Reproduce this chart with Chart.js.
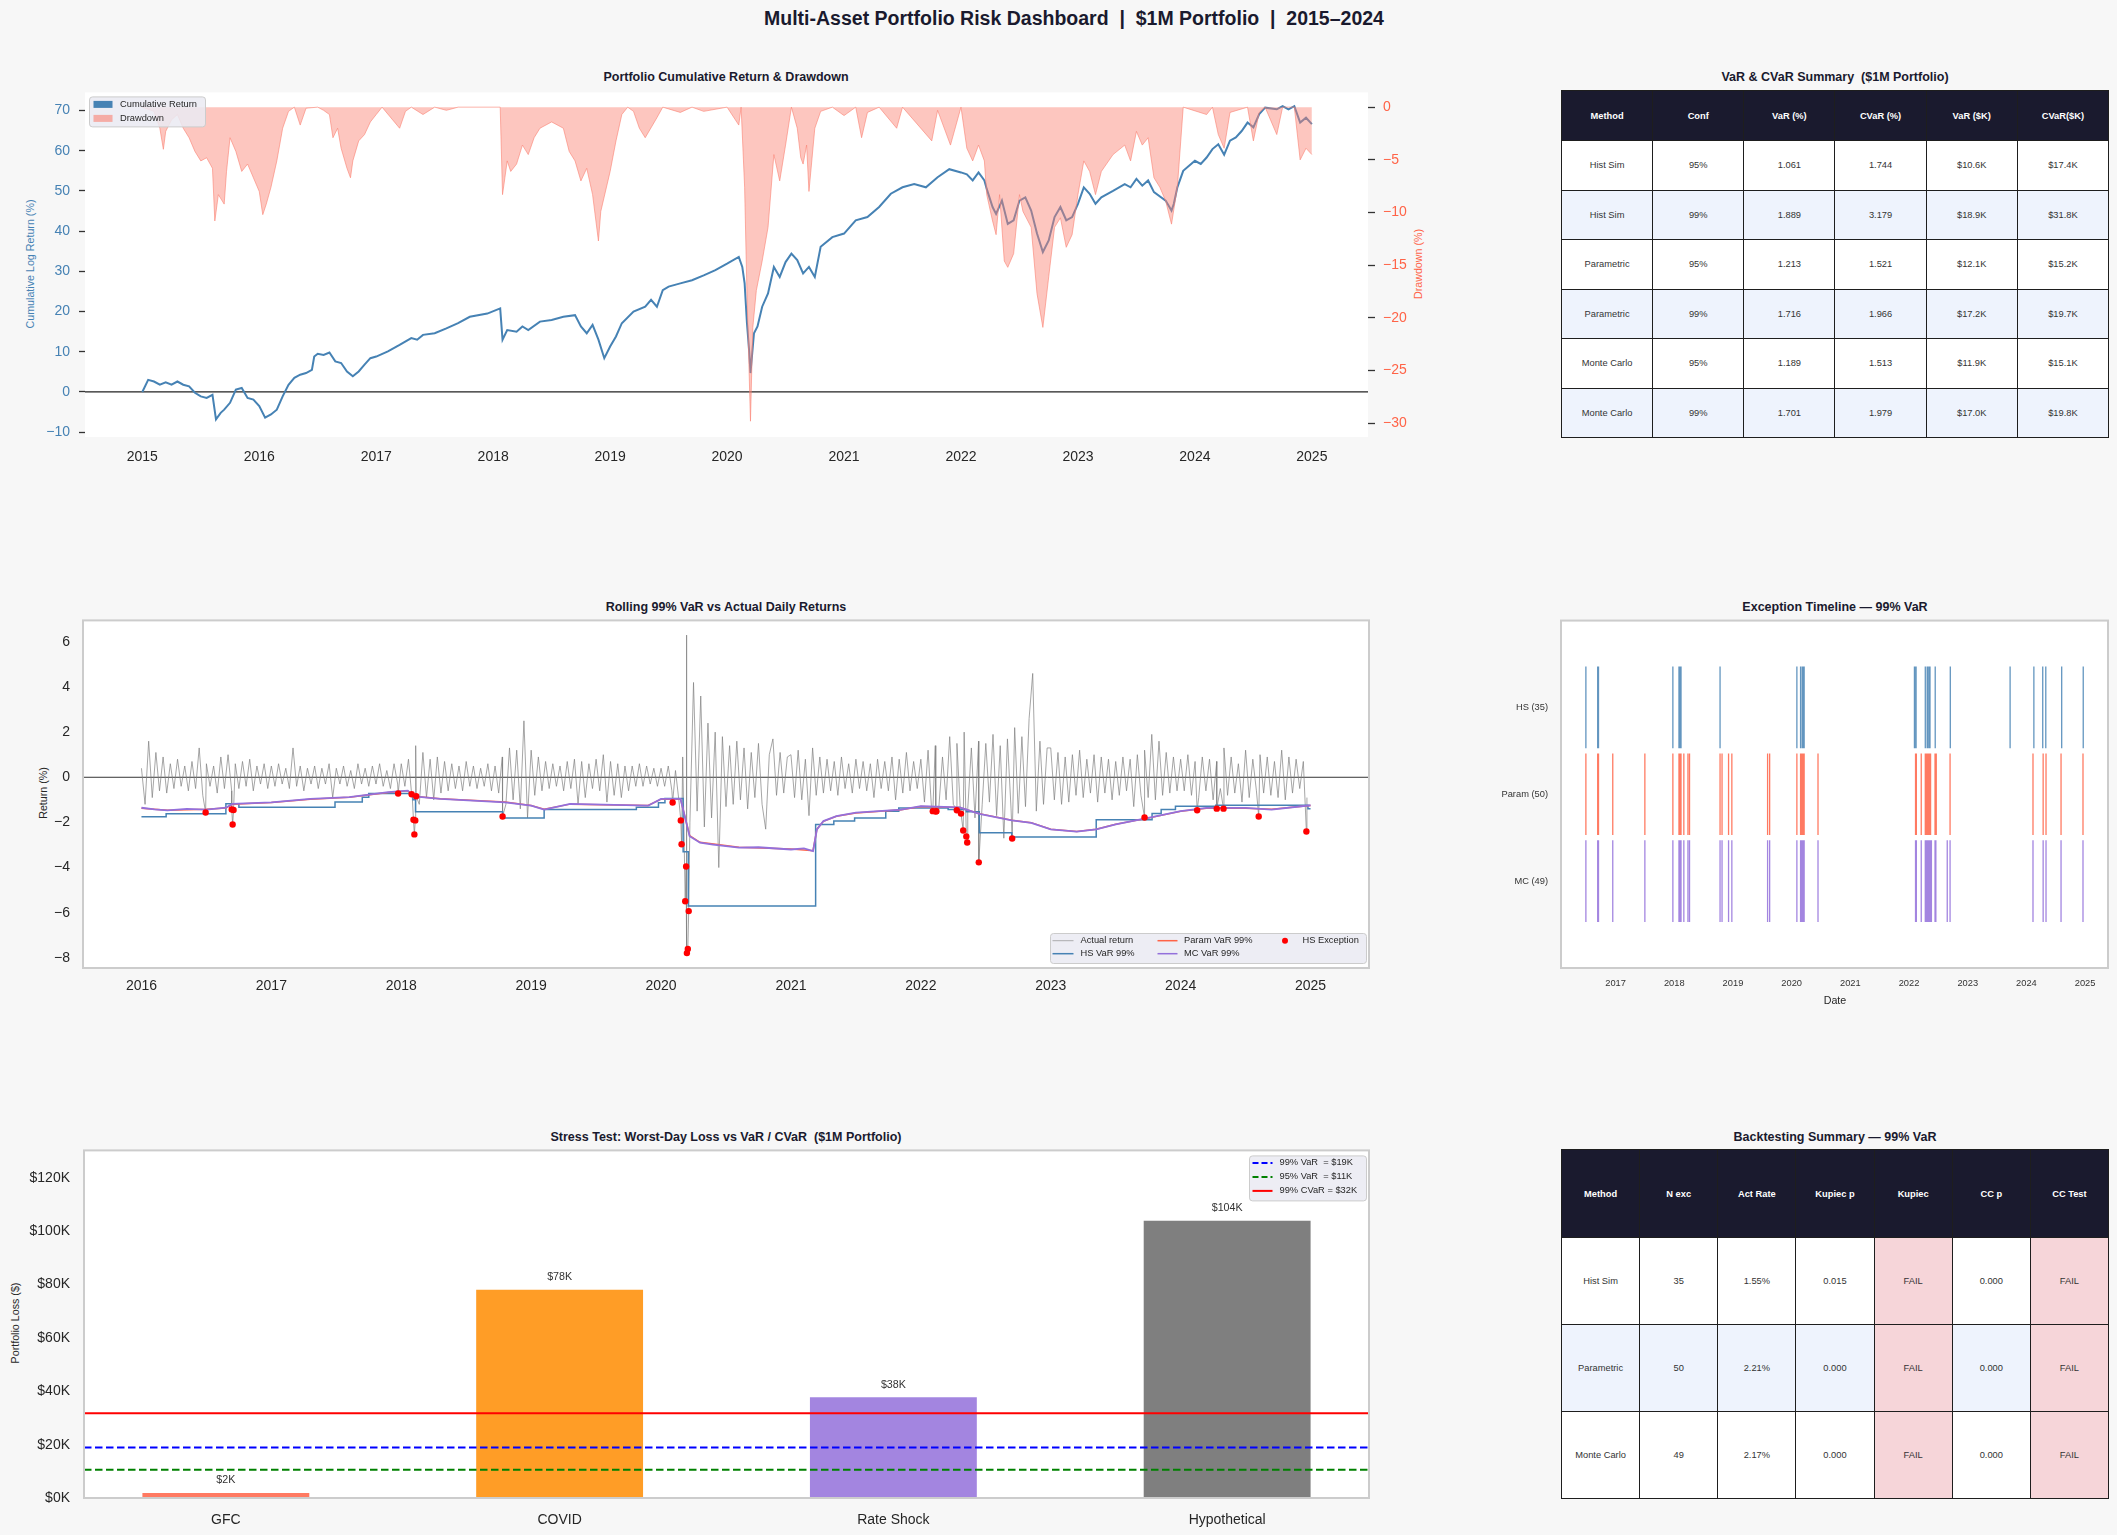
<!DOCTYPE html>
<html lang="en">
<head>
<meta charset="UTF-8">
<title>Multi-Asset Portfolio Risk Dashboard</title>
<script src="https://cdn.jsdelivr.net/npm/chart.js"></script>
<style>
  body { margin: 0; background: #f7f7f7; font-family: "Liberation Sans", Arial, sans-serif; }
  #page { position: relative; width: 2117px; height: 1535px; overflow: hidden; }
  canvas { position: absolute; }
  .ttl { position: absolute; transform: translate(-50%, -50%); font-weight: bold; font-size: 12.5px; color: #1a1a2e; white-space: pre; }
  .ylab { position: absolute; transform: translate(-50%, -50%) rotate(-90deg); font-size: 10.7px; color: #262626; white-space: nowrap; }
  table { position: absolute; border-collapse: collapse; table-layout: fixed; font-size: 9.3px; color: #333; }
  td, th { border: 1.5px solid #1e1e1e; text-align: center; padding: 0; }
  th { background: #1a1a2e; color: #fff; font-weight: bold; }
</style>
</head>
<body>
<div id="page">
  <div class="ttl" style="left:1074px; top:18px; font-size:19.5px;">Multi-Asset Portfolio Risk Dashboard  |  $1M Portfolio  |  2015–2024</div>

  <div class="ttl" style="left:726px; top:77px;">Portfolio Cumulative Return &amp; Drawdown</div>
  <div class="ylab" style="left:30px; top:264px; color:steelblue;">Cumulative Log Return (%)</div>
  <div class="ylab" style="left:1418px; top:264px; color:tomato;">Drawdown (%)</div>
  <canvas id="cumChart" width="1440" height="396" style="left:0; top:75px;"></canvas>

  <div class="ttl" style="left:1835px; top:77px;">VaR &amp; CVaR Summary  ($1M Portfolio)</div>
  <table id="varTable" style="left:1561px; top:90px; width:548px; height:348px;"></table>

  <div class="ttl" style="left:726px; top:607px;">Rolling 99% VaR vs Actual Daily Returns</div>
  <div class="ylab" style="left:43px; top:793px;">Return (%)</div>
  <canvas id="rollChart" width="1440" height="402" style="left:0; top:599px;"></canvas>

  <div class="ttl" style="left:1835px; top:607px;">Exception Timeline — 99% VaR</div>
  <canvas id="excChart" width="637" height="428" style="left:1480px; top:602px;"></canvas>
  <div class="ylab" style="left:1835px; top:1000px; transform:translate(-50%,-50%);">Date</div>

  <div class="ttl" style="left:726px; top:1137px;">Stress Test: Worst-Day Loss vs VaR / CVaR  ($1M Portfolio)</div>
  <div class="ylab" style="left:15px; top:1323px;">Portfolio Loss ($)</div>
  <canvas id="stressChart" width="1440" height="407" style="left:0; top:1128px;"></canvas>

  <div class="ttl" style="left:1835px; top:1137px;">Backtesting Summary — 99% VaR</div>
  <table id="btTable" style="left:1561px; top:1149px; width:548px; height:349px;"></table>
</div>

<script>
// ---------- data ----------
// cumulative log return (%) and drawdown (%), [year, value]
const cumReturn = [
  [2015.00,0],[2015.05,3.0],[2015.10,2.6],[2015.15,1.8],[2015.20,2.4],[2015.25,1.8],[2015.30,2.6],[2015.35,1.8],
  [2015.40,1.4],[2015.45,-0.2],[2015.50,-1.1],[2015.55,-1.5],[2015.60,-0.7],[2015.63,-6.8],[2015.67,-5.2],[2015.70,-4.4],
  [2015.75,-2.7],[2015.80,0.6],[2015.85,1.0],[2015.90,-1.5],[2015.95,-1.9],[2016.00,-3.5],[2016.05,-6.4],[2016.10,-5.6],
  [2016.15,-4.4],[2016.20,-1.1],[2016.25,1.8],[2016.30,3.5],[2016.35,4.3],[2016.40,4.7],[2016.45,5.5],[2016.47,8.8],
  [2016.50,9.5],[2016.55,9.2],[2016.60,9.8],[2016.65,7.6],[2016.70,7.2],[2016.75,5.1],[2016.80,3.9],[2016.85,5.1],
  [2016.90,6.8],[2016.95,8.4],[2017.00,8.8],[2017.10,10.1],[2017.20,11.7],[2017.30,13.4],[2017.35,13.0],[2017.40,14.2],
  [2017.50,14.6],[2017.60,15.8],[2017.70,17.1],[2017.80,18.7],[2017.95,19.5],[2018.06,20.8],[2018.08,13.0],[2018.12,15.4],
  [2018.20,15.0],[2018.25,16.3],[2018.30,15.4],[2018.40,17.5],[2018.50,17.9],[2018.60,18.7],[2018.70,19.1],[2018.75,16.3],
  [2018.80,14.6],[2018.85,16.7],[2018.90,13.0],[2018.95,8.4],[2019.00,11.3],[2019.05,13.8],[2019.10,17.1],[2019.20,20.0],
  [2019.30,21.2],[2019.35,22.9],[2019.40,21.2],[2019.45,25.3],[2019.50,26.2],[2019.60,27.0],[2019.70,27.8],[2019.80,29.0],
  [2019.90,30.3],[2020.00,31.9],[2020.10,33.6],[2020.13,31.1],[2020.15,27.0],[2020.17,17.1],[2020.19,9.7],[2020.20,4.7],
  [2020.23,14.6],[2020.26,16.3],[2020.30,21.2],[2020.35,24.5],[2020.40,31.1],[2020.45,28.6],[2020.50,32.3],[2020.55,34.4],
  [2020.60,32.8],[2020.65,29.5],[2020.70,31.1],[2020.75,28.6],[2020.80,36.1],[2020.90,38.5],[2021.00,39.4],[2021.10,42.7],
  [2021.20,43.5],[2021.30,46.0],[2021.40,49.3],[2021.50,50.9],[2021.60,51.7],[2021.70,50.9],[2021.80,53.4],[2021.90,55.4],
  [2022.00,54.6],[2022.05,54.1],[2022.10,52.6],[2022.15,54.6],[2022.20,52.6],[2022.22,50.5],[2022.27,46.0],[2022.30,44.3],
  [2022.35,47.6],[2022.40,41.8],[2022.45,42.7],[2022.50,47.6],[2022.55,48.4],[2022.60,45.1],[2022.65,39.4],[2022.70,34.8],
  [2022.75,37.7],[2022.80,43.5],[2022.85,46.0],[2022.90,42.7],[2022.95,43.5],[2023.00,46.8],[2023.05,50.9],[2023.10,49.3],
  [2023.15,46.8],[2023.20,48.4],[2023.30,50.0],[2023.40,51.7],[2023.45,50.9],[2023.50,53.0],[2023.55,51.3],[2023.60,52.6],
  [2023.65,49.7],[2023.75,47.6],[2023.80,45.1],[2023.82,46.8],[2023.85,50.9],[2023.90,55.0],[2024.00,57.5],[2024.05,56.7],
  [2024.10,58.3],[2024.15,60.4],[2024.20,61.6],[2024.25,59.0],[2024.30,62.5],[2024.35,63.3],[2024.40,64.9],[2024.45,67.0],
  [2024.50,65.8],[2024.55,69.1],[2024.60,70.7],[2024.70,70.3],[2024.75,71.1],[2024.80,70.3],[2024.85,71.1],[2024.90,67.0],
  [2024.95,68.2],[2025.00,66.6]
];
const drawdown = [
  [2015.00,0],[2015.10,-0.4],[2015.15,-2.0],[2015.18,-4.0],[2015.20,-2.3],[2015.25,-1.2],[2015.30,-0.7],[2015.35,-2.0],
  [2015.40,-2.9],[2015.45,-4.2],[2015.50,-5.1],[2015.55,-4.8],[2015.60,-5.8],[2015.62,-10.8],[2015.65,-8.3],[2015.70,-9.2],
  [2015.72,-6.1],[2015.75,-2.9],[2015.80,-4.2],[2015.85,-6.1],[2015.90,-5.4],[2015.95,-6.7],[2016.00,-8.0],[2016.03,-10.2],
  [2016.06,-9.2],[2016.10,-7.6],[2016.15,-5.1],[2016.20,-2.0],[2016.25,-0.4],[2016.30,0],[2016.35,-1.7],[2016.40,-0.1],
  [2016.50,0],[2016.55,-0.3],[2016.60,-0.7],[2016.63,-2.9],[2016.67,-2.0],[2016.70,-3.9],[2016.75,-5.8],[2016.78,-6.7],
  [2016.80,-5.1],[2016.85,-3.2],[2016.90,-2.6],[2016.95,-1.4],[2017.00,-0.7],[2017.05,0],[2017.20,-2.0],[2017.25,-0.4],
  [2017.30,0],[2017.40,-0.7],[2017.50,0],[2017.60,-0.3],[2017.70,0],[2018.06,0],[2018.08,-8.3],[2018.10,-6.7],
  [2018.12,-5.1],[2018.15,-6.1],[2018.20,-5.4],[2018.25,-3.6],[2018.30,-4.5],[2018.35,-2.9],[2018.40,-2.0],[2018.50,-1.4],
  [2018.60,-2.0],[2018.65,-4.2],[2018.70,-5.1],[2018.75,-7.0],[2018.80,-5.8],[2018.85,-8.3],[2018.90,-12.7],[2018.92,-9.9],
  [2019.00,-6.1],[2019.05,-3.2],[2019.10,-0.7],[2019.15,0],[2019.20,-0.4],[2019.25,-2.0],[2019.30,-2.9],[2019.40,-1.0],
  [2019.45,0],[2019.60,-0.5],[2019.70,0],[2019.80,-0.4],[2020.00,0],[2020.10,-1.7],[2020.12,0],[2020.15,-7.6],
  [2020.17,-17.7],[2020.20,-29.8],[2020.22,-20.9],[2020.25,-17.4],[2020.30,-14.6],[2020.35,-11.4],[2020.40,-4.5],[2020.45,-7.0],
  [2020.50,-3.6],[2020.55,0],[2020.60,-2.0],[2020.63,-4.8],[2020.65,-5.4],[2020.68,-3.6],[2020.70,-8.0],[2020.75,-2.0],
  [2020.80,-0.4],[2020.90,0],[2021.00,-0.8],[2021.10,0],[2021.15,-2.9],[2021.20,-0.5],[2021.30,0],[2021.45,-2.0],
  [2021.50,0],[2021.75,-3.2],[2021.80,-0.3],[2021.91,-3.6],[2022.00,0],[2022.05,-3.9],[2022.10,-5.1],[2022.15,-3.6],
  [2022.20,-5.1],[2022.22,-8.3],[2022.27,-10.8],[2022.30,-12.1],[2022.33,-8.3],[2022.37,-14.6],[2022.40,-15.2],[2022.45,-13.9],
  [2022.50,-8.3],[2022.53,-9.9],[2022.60,-11.4],[2022.65,-17.7],[2022.70,-20.9],[2022.75,-16.1],[2022.80,-11.4],[2022.85,-10.5],
  [2022.90,-13.3],[2022.95,-12.1],[2023.00,-8.3],[2023.05,-5.1],[2023.10,-6.1],[2023.15,-8.3],[2023.20,-6.1],[2023.30,-4.5],
  [2023.40,-3.6],[2023.45,-5.1],[2023.50,-2.3],[2023.55,-3.6],[2023.60,-2.9],[2023.65,-6.7],[2023.70,-7.6],[2023.75,-8.9],
  [2023.80,-11.1],[2023.85,-7.6],[2023.90,0],[2024.10,-0.7],[2024.15,0],[2024.20,-2.6],[2024.25,-3.9],[2024.30,-0.5],
  [2024.45,0],[2024.50,-3.2],[2024.55,-0.5],[2024.60,0],[2024.70,-2.6],[2024.75,0],[2024.85,0],[2024.90,-5.0],
  [2024.95,-3.9],[2025.00,-4.5]
];

// actual daily returns (%), sampled ~3 per month, one array per year
const ret2016 = [0.4,-1.2,1.6,-0.9,1.1,-0.6,0.9,-0.7,0.6,-0.5,0.8,-0.4,0.5,-0.6,0.7,-0.5,1.3,-0.8,0.6,-0.4,0.5,-0.7,0.9,-0.5,1.0,-0.6,0.6,-0.5,0.7,-0.4,0.8,-0.6,0.5,-0.3,0.6,-0.5];
const ret2017 = [0.5,-0.4,0.6,-0.3,0.4,-0.5,1.3,-0.4,0.5,-0.6,0.4,-0.3,0.5,-0.5,0.4,-0.3,0.6,-0.9,0.4,-0.3,0.5,-0.4,0.3,-0.5,0.6,-0.3,0.4,-0.4,0.5,-0.3,0.6,-0.4,0.3,-0.5,0.6,-0.3];
const ret2018 = [0.6,-0.4,0.8,-0.7,1.4,-1.2,1.1,-0.9,0.8,-1.0,0.9,-0.7,0.7,-0.6,0.6,-0.5,0.5,-0.6,0.7,-0.4,0.5,-0.5,0.4,-0.4,0.6,-0.6,0.5,-0.7,0.9,-1.2,1.3,-1.0,1.2,-1.4,2.5,-1.8];
const ret2019 = [1.2,-0.8,0.9,-0.6,0.7,-0.5,0.6,-0.4,0.5,-0.6,0.7,-0.5,0.8,-1.2,0.7,-0.9,0.6,-0.5,0.8,-0.6,1.0,-1.1,0.7,-0.8,0.6,-0.9,0.5,-0.6,0.5,-0.4,0.6,-0.4,0.5,-0.3,0.4,-0.4];
const ret2020 = [0.4,-0.4,0.5,-0.6,0.3,-1.1,0.9,6.3,-2.0,4.2,-1.5,3.6,-2.2,2.4,-1.8,2.0,-4.0,1.8,-1.3,1.4,-1.2,1.6,-1.0,1.3,-1.4,1.1,-0.9,1.5,-1.2,-2.3,1.0,1.7,-0.8,1.1,-0.7,0.9];
const ret2021 = [1.0,-0.9,1.2,-1.0,0.8,-1.7,1.3,-0.8,0.9,-0.7,0.8,-0.6,0.7,-0.8,0.9,-0.5,0.6,-0.7,0.8,-0.5,0.7,-0.6,0.6,-0.9,0.8,-0.5,0.7,-0.6,0.9,-1.0,0.8,-0.7,1.1,-0.6,0.7,-0.5];
const ret2022 = [0.8,-1.1,1.2,-1.5,1.4,-1.3,0.9,-1.0,1.8,-1.2,1.5,-1.6,2.0,-1.4,1.3,-1.8,1.6,-1.2,1.5,-1.1,1.9,-1.7,1.4,-2.7,1.7,-1.4,2.2,-1.6,1.8,-1.3,2.6,4.6,-1.5,1.6,-1.2,1.3];
const ret2023 = [1.3,-1.0,1.1,-1.2,0.9,-1.1,1.0,-0.8,1.2,-0.9,0.8,-0.7,1.0,-1.1,0.9,-0.7,0.8,-1.0,0.7,-0.8,0.9,-0.6,0.8,-1.3,1.0,-0.8,1.2,-0.9,1.9,-1.0,1.6,-0.8,1.1,-0.7,0.9,-0.6];
const ret2024 = [0.8,-0.6,1.0,-0.8,0.7,-0.9,0.9,-0.6,0.8,-1.0,0.7,-0.5,1.3,-0.8,0.9,-0.7,0.6,-1.1,1.2,-0.9,0.8,-0.6,1.0,-0.7,0.9,-0.8,0.7,-0.9,1.2,-1.0,0.9,-0.7,0.8,-0.5,0.7,-0.9];
const returnYears = [2016, 2017, 2018, 2019, 2020, 2021, 2022, 2023, 2024];
const returnArrays = [ret2016, ret2017, ret2018, ret2019, ret2020, ret2021, ret2022, ret2023, ret2024];

// rolling 99% VaR (%), [year, value]
const hsVaR = [
  [2016.00,-1.75],[2016.19,-1.62],[2016.65,-1.17],[2016.75,-1.33],[2017.49,-1.10],[2017.70,-0.88],[2017.75,-0.72],
  [2018.09,-1.00],[2018.11,-1.53],[2018.78,-1.80],[2019.10,-1.43],[2019.81,-1.33],[2019.98,-1.13],[2020.03,-0.94],
  [2020.17,-3.30],[2020.21,-5.70],[2021.19,-2.09],[2021.33,-1.94],[2021.49,-1.80],[2021.73,-1.50],[2021.83,-1.36],
  [2022.21,-1.43],[2022.35,-1.53],[2022.45,-2.46],[2022.70,-2.65],[2023.35,-1.88],[2023.78,-1.60],[2023.85,-1.43],
  [2023.96,-1.28],[2024.27,-1.24],[2024.98,-1.39],[2025.00,-1.39]
];
const paramVaR = [
  [2016.00,-1.37],[2016.20,-1.46],[2016.50,-1.42],[2016.65,-1.36],[2016.70,-1.20],[2017.00,-1.12],[2017.30,-0.97],
  [2017.60,-0.89],[2017.90,-0.67],[2018.05,-0.60],[2018.10,-0.84],[2018.30,-0.95],[2018.80,-1.10],[2019.00,-1.25],
  [2019.10,-1.42],[2019.30,-1.19],[2019.90,-1.25],[2020.00,-0.97],[2020.15,-0.97],[2020.22,-2.58],[2020.30,-2.88],
  [2020.60,-3.10],[2021.00,-3.18],[2021.17,-3.25],[2021.20,-2.30],[2021.25,-1.95],[2021.35,-1.73],[2021.50,-1.58],
  [2021.85,-1.44],[2022.00,-1.29],[2022.30,-1.34],[2022.45,-1.61],[2022.70,-1.90],[2022.85,-2.01],[2023.00,-2.30],
  [2023.20,-2.40],[2023.35,-2.30],[2023.50,-2.08],[2023.75,-1.81],[2024.00,-1.51],[2024.20,-1.37],[2024.50,-1.37],
  [2024.70,-1.42],[2025.00,-1.25]
];
const mcVaR = [
  [2016.00,-1.35],[2016.10,-1.42],[2016.20,-1.47],[2016.35,-1.40],[2016.50,-1.43],[2016.65,-1.35],[2016.70,-1.18],
  [2017.00,-1.11],[2017.30,-0.96],[2017.60,-0.88],[2017.90,-0.66],[2018.05,-0.59],[2018.10,-0.85],[2018.30,-0.96],
  [2018.80,-1.11],[2019.00,-1.26],[2019.10,-1.43],[2019.30,-1.18],[2019.90,-1.26],[2020.00,-0.96],[2020.15,-0.96],
  [2020.22,-2.61],[2020.30,-2.90],[2020.40,-2.98],[2020.50,-3.05],[2020.60,-3.12],[2020.75,-3.10],[2021.00,-3.20],
  [2021.10,-3.15],[2021.17,-3.27],[2021.20,-2.31],[2021.25,-1.94],[2021.35,-1.72],[2021.50,-1.57],[2021.85,-1.43],
  [2022.00,-1.28],[2022.30,-1.33],[2022.45,-1.62],[2022.70,-1.91],[2022.85,-2.02],[2023.00,-2.31],[2023.20,-2.41],
  [2023.35,-2.31],[2023.50,-2.09],[2023.75,-1.80],[2024.00,-1.50],[2024.20,-1.36],[2024.50,-1.36],[2024.70,-1.43],
  [2025.00,-1.24]
];
// HS exceptions: [year, actual return %]
const hsExceptions = [
  [2016.494,-1.56],[2016.695,-1.43],[2016.702,-2.09],[2016.709,-1.45],[2017.976,-0.72],
  [2018.080,-0.75],[2018.094,-1.88],[2018.101,-2.53],[2018.108,-1.91],[2018.115,-0.84],[2018.780,-1.74],
  [2020.089,-1.12],[2020.152,-1.91],[2020.158,-2.97],[2020.186,-5.49],[2020.193,-3.95],[2020.199,-7.79],
  [2020.206,-7.61],[2020.213,-5.93],[2022.092,-1.50],[2022.115,-1.52],[2022.120,-1.50],[2022.277,-1.46],
  [2022.309,-1.61],[2022.326,-2.36],[2022.350,-2.62],[2022.357,-2.89],[2022.446,-3.77],[2022.703,-2.71],
  [2023.722,-1.78],[2024.127,-1.46],[2024.278,-1.39],[2024.330,-1.39],[2024.601,-1.74],[2024.968,-2.40]
];
const paramExcDates = [
  2016.494,2016.695,2016.709,2016.952,2017.499,2017.976,2018.080,2018.094,2018.101,2018.115,2018.163,2018.233,
  2018.260,2018.780,2018.814,2018.925,2018.981,2019.590,2019.625,2020.089,2020.152,2020.158,2020.172,2020.186,
  2020.193,2020.199,2020.206,2020.213,2020.449,2022.111,2022.125,2022.208,2022.277,2022.298,2022.312,2022.319,
  2022.326,2022.339,2022.346,2022.353,2022.367,2022.443,2022.457,2022.464,2022.699,2024.112,2024.285,2024.334,
  2024.590,2024.964
];
const mcExcDates = [
  2016.494,2016.695,2016.709,2016.952,2017.499,2017.976,2018.080,2018.094,2018.108,2018.115,2018.163,2018.233,
  2018.260,2018.780,2018.814,2018.925,2018.981,2019.590,2019.625,2020.089,2020.152,2020.165,2020.172,2020.179,
  2020.186,2020.199,2020.213,2020.449,2022.111,2022.125,2022.208,2022.277,2022.298,2022.312,2022.326,2022.339,
  2022.346,2022.353,2022.367,2022.381,2022.443,2022.457,2022.651,2022.699,2024.112,2024.285,2024.334,2024.590,
  2024.964
];

// VaR / CVaR summary table
const varMethods = ['Hist Sim', 'Hist Sim', 'Parametric', 'Parametric', 'Monte Carlo', 'Monte Carlo'];
const varConf = ['95%', '99%', '95%', '99%', '95%', '99%'];
const varPct = [1.061, 1.889, 1.213, 1.716, 1.189, 1.701];
const cvarPct = [1.744, 3.179, 1.521, 1.966, 1.513, 1.979];
const varK = [10.6, 18.9, 12.1, 17.2, 11.9, 17.0];
const cvarK = [17.4, 31.8, 15.2, 19.7, 15.1, 19.8];

// backtesting table
const btMethods = ['Hist Sim', 'Parametric', 'Monte Carlo'];
const nExc = [35, 50, 49];
const actRate = [1.55, 2.21, 2.17];
const kupiecP = [0.015, 0.000, 0.000];
const kupiecRes = ['FAIL', 'FAIL', 'FAIL'];
const ccP = [0.000, 0.000, 0.000];
const ccRes = ['FAIL', 'FAIL', 'FAIL'];

// stress test
const stressScenarios = ['GFC', 'COVID', 'Rate Shock', 'Hypothetical'];
const stressLossK = [1.9, 78.1, 37.8, 103.9];
const stressColors = ['rgba(255,99,71,0.85)', 'rgba(255,140,0,0.85)', 'rgba(147,112,219,0.85)', 'rgba(105,105,105,0.85)'];

// ---------- helpers ----------
Chart.defaults.font.family = '"Liberation Sans", Arial, sans-serif';
Chart.defaults.color = '#262626';
Chart.defaults.animation = false;
Chart.defaults.responsive = false;
Chart.defaults.plugins.legend.display = false;
Chart.defaults.plugins.tooltip.enabled = false;
Chart.defaults.elements.point.radius = 0;

const FONT = '"Liberation Sans", Arial, sans-serif';
const TICK = 14;
const minus = v => (v < 0 ? '\u2212' + Math.abs(v) : String(v));
const pts = arr => arr.map(p => ({ x: p[0], y: p[1] }));
const noGrid = { display: false, drawTicks: false };

const panel = {
  id: 'panel',
  beforeDraw(chart, args, o) {
    const a = chart.chartArea, ctx = chart.ctx;
    ctx.save();
    ctx.fillStyle = '#ffffff';
    ctx.fillRect(a.left, a.top, a.right - a.left, a.bottom - a.top);
    ctx.restore();
  },
  afterDraw(chart, args, o) {
    if (!o.stroke) return;
    const a = chart.chartArea, ctx = chart.ctx;
    ctx.save();
    ctx.strokeStyle = o.stroke;
    ctx.lineWidth = 2;
    ctx.strokeRect(a.left, a.top, a.right - a.left, a.bottom - a.top);
    ctx.restore();
  }
};

// matplotlib-like legend box
const boxLegend = {
  id: 'boxLegend',
  afterDraw(chart, args, o) {
    if (!o.items) return;
    const a = chart.chartArea, ctx = chart.ctx;
    const x = o.right != null ? a.right - o.right - o.w : a.left + o.left;
    const y = o.bottom != null ? a.bottom - o.bottom - o.h : a.top + o.top;
    ctx.save();
    ctx.fillStyle = 'rgba(234,234,242,0.85)';
    ctx.strokeStyle = '#cccccc';
    ctx.lineWidth = 1;
    ctx.beginPath();
    ctx.roundRect(x + 0.5, y + 0.5, o.w, o.h, 3);
    ctx.fill();
    ctx.stroke();
    ctx.font = '9.3px ' + FONT;
    ctx.textBaseline = 'middle';
    o.items.forEach(it => {
      const iy = y + it.y;
      ctx.save();
      ctx.strokeStyle = it.color;
      ctx.fillStyle = it.color;
      ctx.lineWidth = it.lw || 1.5;
      if (it.kind === 'patch') {
        ctx.fillRect(x + it.hx, iy - 3.5, it.hw, 7);
      } else if (it.kind === 'dot') {
        ctx.beginPath();
        ctx.arc(x + it.hx, iy, 3, 0, Math.PI * 2);
        ctx.fill();
      } else {
        ctx.setLineDash(it.dash || []);
        ctx.beginPath();
        ctx.moveTo(x + it.hx, iy);
        ctx.lineTo(x + it.hx + it.hw, iy);
        ctx.stroke();
      }
      ctx.restore();
      ctx.fillStyle = '#262626';
      ctx.fillText(it.label, x + it.tx, iy);
    });
    ctx.restore();
  }
};

const barLabels = {
  id: 'barLabels',
  afterDatasetsDraw(chart, args, o) {
    if (!o.texts) return;
    const meta = chart.getDatasetMeta(0), ctx = chart.ctx;
    ctx.save();
    ctx.font = '10.7px ' + FONT;
    ctx.fillStyle = '#333333';
    ctx.textAlign = 'center';
    ctx.textBaseline = 'middle';
    meta.data.forEach((el, i) => ctx.fillText(o.texts[i], el.x, el.y - 12.5));
    ctx.restore();
  }
};

// ---------- cumulative return & drawdown ----------
new Chart(document.getElementById('cumChart'), {
  type: 'line',
  data: {
    datasets: [
      { data: pts(cumReturn), yAxisID: 'y', borderColor: 'steelblue', borderWidth: 2, order: 2 },
      { data: pts(drawdown), yAxisID: 'y2', borderColor: 'rgba(250,128,114,0.6)', backgroundColor: 'rgba(250,128,114,0.45)',
        borderWidth: 1, fill: 'origin', order: 1 },
      { data: [{ x: 2014.51, y: 0 }, { x: 2025.48, y: 0 }], yAxisID: 'y', borderColor: '#222222', borderWidth: 1.2, order: 3 }
    ]
  },
  options: {
    layout: { padding: { top: 0, right: 0, bottom: 0, left: 0 } },
    scales: {
      x: {
        type: 'linear', min: 2014.51, max: 2025.48,
        ticks: { stepSize: 1, includeBounds: false, padding: 12, font: { size: TICK }, callback: v => String(v) },
        grid: noGrid, border: { display: false },
        afterFit: s => { s.height = 34; }
      },
      y: {
        position: 'left', min: -11.2, max: 74.5,
        ticks: { stepSize: 10, includeBounds: false, padding: 9, color: 'steelblue', font: { size: TICK }, callback: minus },
        grid: { display: true, drawOnChartArea: false, drawTicks: true, tickLength: 6, tickColor: '#333333', tickWidth: 1.3 },
        border: { display: false },
        afterFit: s => { s.width = 85; }
      },
      y2: {
        position: 'right', min: -31.3, max: 1.4,
        ticks: { stepSize: 5, includeBounds: false, padding: 8, color: 'tomato', font: { size: TICK }, callback: minus },
        grid: { display: true, drawOnChartArea: false, drawTicks: true, tickLength: 7, tickColor: '#333333', tickWidth: 1.3 },
        border: { display: false },
        afterFit: s => { s.width = 72; }
      }
    },
    plugins: {
      boxLegend: {
        left: 4, top: 4, w: 116, h: 30,
        items: [
          { label: 'Cumulative Return', kind: 'patch', color: 'steelblue', hx: 4.5, hw: 19, tx: 31, y: 8 },
          { label: 'Drawdown', kind: 'patch', color: 'rgba(250,128,114,0.6)', hx: 4.5, hw: 19, tx: 31, y: 22 }
        ]
      }
    }
  },
  plugins: [panel, boxLegend]
});

// ---------- rolling VaR vs returns ----------
const returnPts = [];
returnYears.forEach((yr, k) => {
  returnArrays[k].forEach((v, i) => returnPts.push({ x: yr + i / returnArrays[k].length, y: v }));
});
hsExceptions.forEach(p => returnPts.push({ x: p[0], y: p[1] }));
returnPts.sort((a, b) => a.x - b.x);

new Chart(document.getElementById('rollChart'), {
  type: 'line',
  data: {
    datasets: [
      { data: [{ x: 2015.55, y: 0 }, { x: 2025.45, y: 0 }], borderColor: '#333333', borderWidth: 1, order: 10 },
      { data: returnPts, borderColor: 'rgba(128,128,128,0.7)', borderWidth: 1, order: 9 },
      { data: pts(hsVaR), stepped: true, borderColor: 'steelblue', borderWidth: 1.5, order: 8 },
      { data: pts(paramVaR), borderColor: 'tomato', borderWidth: 1.5, order: 7 },
      { data: pts(mcVaR), borderColor: 'mediumpurple', borderWidth: 1.8, order: 6 },
      { data: pts(hsExceptions), showLine: false, pointRadius: 3.2, pointBackgroundColor: 'red', pointBorderWidth: 0, order: 1 }
    ]
  },
  options: {
    layout: { padding: { top: 0, right: 71, bottom: 0, left: 0 } },
    scales: {
      x: {
        type: 'linear', min: 2015.55, max: 2025.45,
        ticks: { stepSize: 1, includeBounds: false, padding: 10, font: { size: TICK }, callback: v => String(v) },
        grid: noGrid, border: { display: false },
        afterFit: s => { s.height = 33; }
      },
      y: {
        min: -8.45, max: 6.95,
        ticks: { stepSize: 2, includeBounds: false, padding: 13, font: { size: TICK }, callback: minus },
        grid: noGrid, border: { display: false },
        afterFit: s => { s.width = 83; }
      }
    },
    plugins: {
      panel: { stroke: '#cccccc' },
      boxLegend: {
        right: 3, bottom: 5, w: 316, h: 30,
        items: [
          { label: 'Actual return', kind: 'line', color: 'rgba(128,128,128,0.6)', lw: 1, hx: 2.5, hw: 21, tx: 30.5, y: 7.7 },
          { label: 'HS VaR 99%', kind: 'line', color: 'steelblue', hx: 2.5, hw: 21, tx: 30.5, y: 20.7 },
          { label: 'Param VaR 99%', kind: 'line', color: 'tomato', hx: 107.5, hw: 20, tx: 134, y: 7.7 },
          { label: 'MC VaR 99%', kind: 'line', color: 'mediumpurple', hx: 107.5, hw: 20, tx: 134, y: 20.7 },
          { label: 'HS Exception', kind: 'dot', color: 'red', hx: 235, tx: 252.5, y: 7.7 }
        ]
      }
    }
  },
  plugins: [panel, boxLegend]
});

// ---------- exception timeline ----------
const timelineNames = ['HS', 'Param', 'MC'];
const timelineColors = ['rgba(70,130,180,0.85)', 'rgba(255,99,71,0.85)', 'rgba(147,112,219,0.85)'];
const timelineDates = [hsExceptions.map(p => p[0]), paramExcDates, mcExcDates];
const ticks = (dates, c) => dates.flatMap(d => [{ x: d, y: c - 0.47 }, { x: d, y: c + 0.47 }, { x: d, y: null }]);

new Chart(document.getElementById('excChart'), {
  type: 'line',
  data: {
    datasets: timelineNames.map((n, i) => ({
      data: ticks(timelineDates[i], 2 - i), borderColor: timelineColors[i], borderWidth: 1.3, spanGaps: false
    }))
  },
  options: {
    layout: { padding: { top: 0, right: 9, bottom: 0, left: 0 } },
    scales: {
      x: {
        type: 'linear', min: 2016.07, max: 2025.39,
        ticks: { stepSize: 1, includeBounds: false, padding: 10, font: { size: 9.3 }, color: '#333333', callback: v => String(v) },
        grid: noGrid, border: { display: false },
        afterFit: s => { s.height = 62; }
      },
      y: {
        min: -1, max: 3,
        ticks: {
          stepSize: 1, includeBounds: false, padding: 13, font: { size: 9.3 }, color: '#333333',
          callback: v => (v >= 0 && v <= 2 ? `${timelineNames[2 - v]} (${nExc[2 - v]})` : '')
        },
        grid: noGrid, border: { display: false },
        afterFit: s => { s.width = 81; }
      }
    },
    plugins: { panel: { stroke: '#cccccc' } }
  },
  plugins: [panel]
});

// ---------- stress test ----------
const var99 = varK[1], var95 = varK[0], cvar99 = cvarK[1];
const hline = (v, color, dash) => ({
  type: 'line', data: [{ x: -0.425, y: v }, { x: 3.425, y: v }], borderColor: color, borderWidth: 2,
  borderDash: dash, order: 1
});

new Chart(document.getElementById('stressChart'), {
  type: 'bar',
  data: {
    datasets: [
      { data: stressLossK.map((v, i) => ({ x: i, y: v })), backgroundColor: stressColors,
        barPercentage: 1, categoryPercentage: 0.5, order: 2 },
      hline(var99, '#0000ff', [7.5, 3.5]),
      hline(var95, '#008000', [7.5, 3.5]),
      hline(cvar99, '#ff0000', [])
    ]
  },
  options: {
    layout: { padding: { top: 0, right: 71, bottom: 0, left: 0 } },
    scales: {
      x: {
        type: 'linear', min: -0.425, max: 3.425, offset: false,
        ticks: { stepSize: 1, includeBounds: false, padding: 14, font: { size: TICK }, callback: v => stressScenarios[v] ?? '' },
        grid: { display: false, drawTicks: false, offset: false }, border: { display: false },
        afterFit: s => { s.height = 37; }
      },
      y: {
        min: 0, max: 130.3,
        ticks: { stepSize: 20, includeBounds: false, padding: 14, font: { size: TICK }, callback: v => '$' + v + 'K' },
        grid: noGrid, border: { display: false },
        afterFit: s => { s.width = 84; }
      }
    },
    plugins: {
      panel: { stroke: '#cccccc' },
      barLabels: { texts: stressLossK.map(v => '$' + Math.round(v) + 'K') },
      boxLegend: {
        right: 3, top: 5, w: 117, h: 45,
        items: [
          { label: `99% VaR  = $${Math.round(var99)}K`, kind: 'line', color: '#0000ff', dash: [6, 3], lw: 2, hx: 3.5, hw: 20, tx: 30.5, y: 7.5 },
          { label: `95% VaR  = $${Math.round(var95)}K`, kind: 'line', color: '#008000', dash: [6, 3], lw: 2, hx: 3.5, hw: 20, tx: 30.5, y: 21.5 },
          { label: `99% CVaR = $${Math.round(cvar99)}K`, kind: 'line', color: '#ff0000', lw: 2, hx: 3.5, hw: 20, tx: 30.5, y: 35.5 }
        ]
      }
    }
  },
  plugins: [panel, barLabels, boxLegend]
});

// ---------- tables ----------
function buildTable(id, headers, rows, headH, rowH, cellBg) {
  const t = document.getElementById(id);
  let html = '<tr style="height:' + headH + 'px">' + headers.map(h => '<th>' + h + '</th>').join('') + '</tr>';
  rows.forEach((r, i) => {
    html += '<tr style="height:' + rowH + 'px">' +
      r.map((c, j) => '<td style="background:' + cellBg(i, j, c) + '">' + c + '</td>').join('') + '</tr>';
  });
  t.innerHTML = html;
}
const rowBg = i => (i % 2 === 1 ? '#eef3fd' : '#ffffff');

buildTable('varTable',
  ['Method', 'Conf', 'VaR (%)', 'CVaR (%)', 'VaR ($K)', 'CVaR($K)'],
  varMethods.map((m, i) => [m, varConf[i], varPct[i].toFixed(3), cvarPct[i].toFixed(3),
    '$' + varK[i].toFixed(1) + 'K', '$' + cvarK[i].toFixed(1) + 'K']),
  50, 49.5, (i) => rowBg(i));

buildTable('btTable',
  ['Method', 'N exc', 'Act Rate', 'Kupiec p', 'Kupiec', 'CC p', 'CC Test'],
  btMethods.map((m, i) => [m, nExc[i], actRate[i].toFixed(2) + '%', kupiecP[i].toFixed(3), kupiecRes[i],
    ccP[i].toFixed(3), ccRes[i]]),
  88, 87, (i, j, c) => (c === 'FAIL' ? '#f6d5d9' : rowBg(i)));
</script>
</body>
</html>
